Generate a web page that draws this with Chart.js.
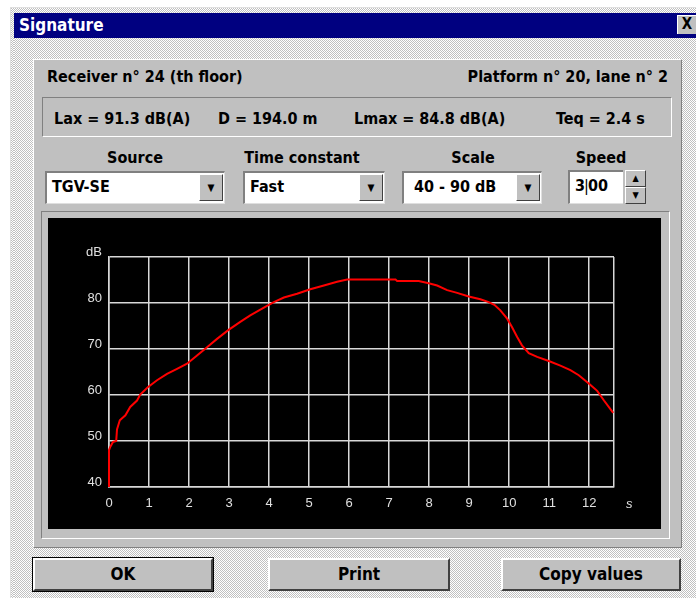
<!DOCTYPE html>
<html lang="en">
<head>
  <meta charset="UTF-8" />
  <title>Signature</title>
  <script src="https://cdn.jsdelivr.net/npm/chart.js"></script>
  <style>
    body {
      margin: 0;
      width: 696px;
      height: 598px;
      overflow: hidden;
      background: #fff;
      font-family: "Liberation Sans Narrow", "DejaVu Sans Condensed", "Liberation Sans", sans-serif;
      font-weight: bold;
      color: #000;
    }
    .abs { position: absolute; }
    .window {
      left: 10px; top: 7px; width: 700px; height: 600px;
      border-left: 1px solid #dfdfdf;
      border-top: 1px solid #dfdfdf;
      background: #c0c0c0;
    }
    .dither {
      background-color: #c0c0c0;
      background-image: repeating-conic-gradient(#ffffff 0 25%, #c0c0c0 0 50%);
      background-size: 2px 2px;
    }
    .titlebar {
      left: 14px; top: 13px; width: 682px; height: 25px;
      background: #000080;
      color: #fff;
      font-size: 17px;
      line-height: 25px;
      padding-left: 5px;
      box-sizing: border-box;
    }
    .closebtn {
      left: 677px; top: 15px; width: 19px; height: 19px;
      background: #c0c0c0;
      border-top: 1px solid #fff; border-left: 1px solid #fff;
      box-sizing: border-box;
      font-size: 15px; line-height: 17px; text-align: center;
      color: #000;
    }
    .panel {
      left: 33px; top: 59px; width: 649px; height: 489px;
      background: #c0c0c0;
      border-top: 1px solid #fff; border-left: 1px solid #fff;
      border-right: 1px solid #808080; border-bottom: 1px solid #808080;
      box-sizing: border-box;
    }
    .sunken {
      border-top: 1px solid #808080; border-left: 1px solid #808080;
      border-right: 1px solid #fff; border-bottom: 1px solid #fff;
      box-sizing: border-box;
    }
    .txt { font-size: 16px; white-space: nowrap; }
    .field {
      background: #fff;
      border-top: 2px solid #808080; border-left: 2px solid #808080;
      border-right: 1px solid #dfdfdf; border-bottom: 1px solid #dfdfdf;
      box-sizing: border-box;
      font-size: 16px; line-height: 27px; padding-left: 5px;
    }
    .drop {
      background: #c0c0c0;
      border-top: 1px solid #fff; border-left: 1px solid #fff;
      border-right: 1px solid #404040; border-bottom: 1px solid #404040;
      box-sizing: border-box;
      font-size: 10px; text-align: center;
    }
    .btn {
      background: #c0c0c0;
      border-top: 2px solid #fff; border-left: 2px solid #fff;
      border-right: 2px solid #404040; border-bottom: 2px solid #404040;
      box-sizing: border-box;
      font-size: 17px; text-align: center; line-height: 29px;
    }
    .btn.default { outline: 1px solid #000; }
    #chartBox { left: 48px; top: 218px; width: 613px; height: 311px; background: #000; }
  </style>
</head>
<body>
  <div class="abs window dither"></div>
  <div class="abs dither" style="left:14px;top:38px;width:682px;height:560px;"></div>
  <div class="abs titlebar">Signature</div>
  <div class="abs closebtn">X</div>

  <div class="abs panel"></div>
  <div class="abs txt" style="left:47px;top:67px;">Receiver n° 24 (th floor)</div>
  <div class="abs txt" style="right:28px;top:67px;">Platform n° 20, lane n° 2</div>

  <div class="abs sunken" style="left:42px;top:97px;width:630px;height:40px;"></div>
  <div class="abs txt" style="left:54px;top:109px;">Lax = 91.3 dB(A)</div>
  <div class="abs txt" style="left:218px;top:109px;">D = 194.0 m</div>
  <div class="abs txt" style="left:354px;top:109px;">Lmax = 84.8 dB(A)</div>
  <div class="abs txt" style="left:556px;top:109px;">Teq = 2.4 s</div>

  <div class="abs txt" style="left:85px;width:100px;text-align:center;top:148px;">Source</div>
  <div class="abs txt" style="left:232px;width:140px;text-align:center;top:148px;">Time constant</div>
  <div class="abs txt" style="left:423px;width:100px;text-align:center;top:148px;">Scale</div>
  <div class="abs txt" style="left:551px;width:100px;text-align:center;top:148px;">Speed</div>

  <div class="abs field" style="left:45px;top:171px;width:180px;height:33px;">TGV-SE</div>
  <div class="abs drop" style="left:199px;top:174px;width:24px;height:27px;line-height:25px;">&#9660;</div>
  <div class="abs field" style="left:243px;top:171px;width:142px;height:33px;">Fast</div>
  <div class="abs drop" style="left:359px;top:174px;width:24px;height:27px;line-height:25px;">&#9660;</div>
  <div class="abs field" style="left:402px;top:171px;width:140px;height:33px;padding-left:10px;">40 - 90 dB</div>
  <div class="abs drop" style="left:516px;top:174px;width:24px;height:27px;line-height:25px;">&#9660;</div>
  <div class="abs field" style="left:568px;top:170px;width:55px;height:34px;border-right:none;">3<span style="font-weight:normal;margin:0 -1px;">|</span>00</div>
  <div class="abs drop" style="left:625px;top:170px;width:21px;height:17px;line-height:15px;font-size:9px;">&#9650;</div>
  <div class="abs drop" style="left:625px;top:187px;width:21px;height:17px;line-height:15px;font-size:9px;">&#9660;</div>

  <div class="abs sunken" style="left:41px;top:211px;width:629px;height:328px;"></div>
  <div class="abs" id="chartBox"><canvas id="sigChart"></canvas></div>

  <div class="abs btn default" style="left:33px;top:558px;width:180px;height:33px;">OK</div>
  <div class="abs btn" style="left:268px;top:558px;width:182px;height:33px;">Print</div>
  <div class="abs btn" style="left:501px;top:558px;width:180px;height:33px;">Copy values</div>

  <script>
    // time signature (s, dB)
    const timeS = [0, 0, 0.03, 0.1, 0.18, 0.2, 0.27, 0.41, 0.53, 0.7, 0.78, 0.97, 1.2, 1.45, 1.7, 1.95,
      2.2, 2.45, 2.7, 2.98, 3.28, 3.53, 3.87, 4.12, 4.37, 4.7, 5.03, 5.37, 5.7, 5.95, 6.5, 7.16, 7.2,
      7.74, 7.99, 8.2, 8.45, 8.7, 8.99, 9.28, 9.49, 9.63, 9.78, 9.95, 10.07, 10.2, 10.32, 10.49, 10.7,
      10.99, 11.28, 11.53, 11.74, 11.99, 12.2, 12.37, 12.6];
    const levelDb = [40, 48, 48.7, 49.8, 50, 52.5, 54.5, 55.6, 57.4, 58.8, 60.1, 61.7, 63.2, 64.6, 65.7, 66.8,
      68.6, 70.4, 72.2, 74.1, 75.9, 77.3, 79, 80.2, 81.2, 82, 83, 83.8, 84.6, 85.1, 85.1, 85.1, 84.8,
      84.8, 84.3, 83.8, 82.8, 82.2, 81.4, 80.8, 80.2, 79.6, 78.4, 76.6, 74.8, 72.6, 70.8, 69.1, 68.3,
      67.4, 66.4, 65.4, 64.3, 62.5, 60.9, 58.8, 56.1];
    const xTicks = [0, 1, 2, 3, 4, 5, 6, 7, 8, 9, 10, 11, 12];
    const xMax = 12.62;
    const yMin = 40, yMax = 90;
    const xUnit = 's', yUnit = 'dB';

    const gridCol = '#d8d8d8';
    const labelCol = '#e0e0e0';
    const tickFont = { family: 'Liberation Sans, Arial, sans-serif', size: 13 };

    // "s" unit label sits one step past the last tick
    const unitLabel = {
      id: 'unitLabel',
      afterDraw(chart) {
        const c = chart.ctx, x = chart.scales.x;
        c.save();
        c.fillStyle = labelCol;
        c.font = 'italic 13px Liberation Sans, Arial, sans-serif';
        c.textAlign = 'center';
        c.textBaseline = 'middle';
        c.fillText(xUnit, x.getPixelForValue(13), x.top + 17);
        c.restore();
      }
    };

    new Chart(document.getElementById('sigChart'), {
      type: 'line',
      data: {
        datasets: [{
          data: timeS.map((t, i) => ({ x: t, y: levelDb[i] })),
          borderColor: '#ff0000',
          borderWidth: 2,
          pointRadius: 0,
          tension: 0,
          fill: false,
          clip: 4
        }]
      },
      options: {
        responsive: true,
        maintainAspectRatio: false,
        animation: false,
        layout: { padding: { left: 0, right: 47, top: 39, bottom: 0 } },
        plugins: { legend: { display: false }, tooltip: { enabled: false } },
        scales: {
          x: {
            type: 'linear',
            min: 0,
            max: xMax,
            afterBuildTicks: s => { s.ticks = xTicks.concat([xMax]).map(v => ({ value: v })); },
            afterFit: s => { s.height = 42; },
            grid: { color: gridCol, lineWidth: 1.5, drawTicks: false },
            border: { color: gridCol, width: 1.5 },
            ticks: {
              color: labelCol, font: tickFont, padding: 9, maxRotation: 0, autoSkip: false,
              callback: v => (xTicks.includes(v) ? v : '')
            }
          },
          y: {
            min: yMin,
            max: yMax,
            afterFit: s => { s.width = 61; },
            grid: { color: gridCol, lineWidth: 1.5, drawTicks: false },
            border: { color: gridCol, width: 1.5 },
            ticks: {
              stepSize: 10, color: labelCol, font: tickFont, padding: 7, labelOffset: -5,
              callback: v => (v === yMax ? yUnit : v)
            }
          }
        }
      },
      plugins: [unitLabel]
    });
  </script>
</body>
</html>
